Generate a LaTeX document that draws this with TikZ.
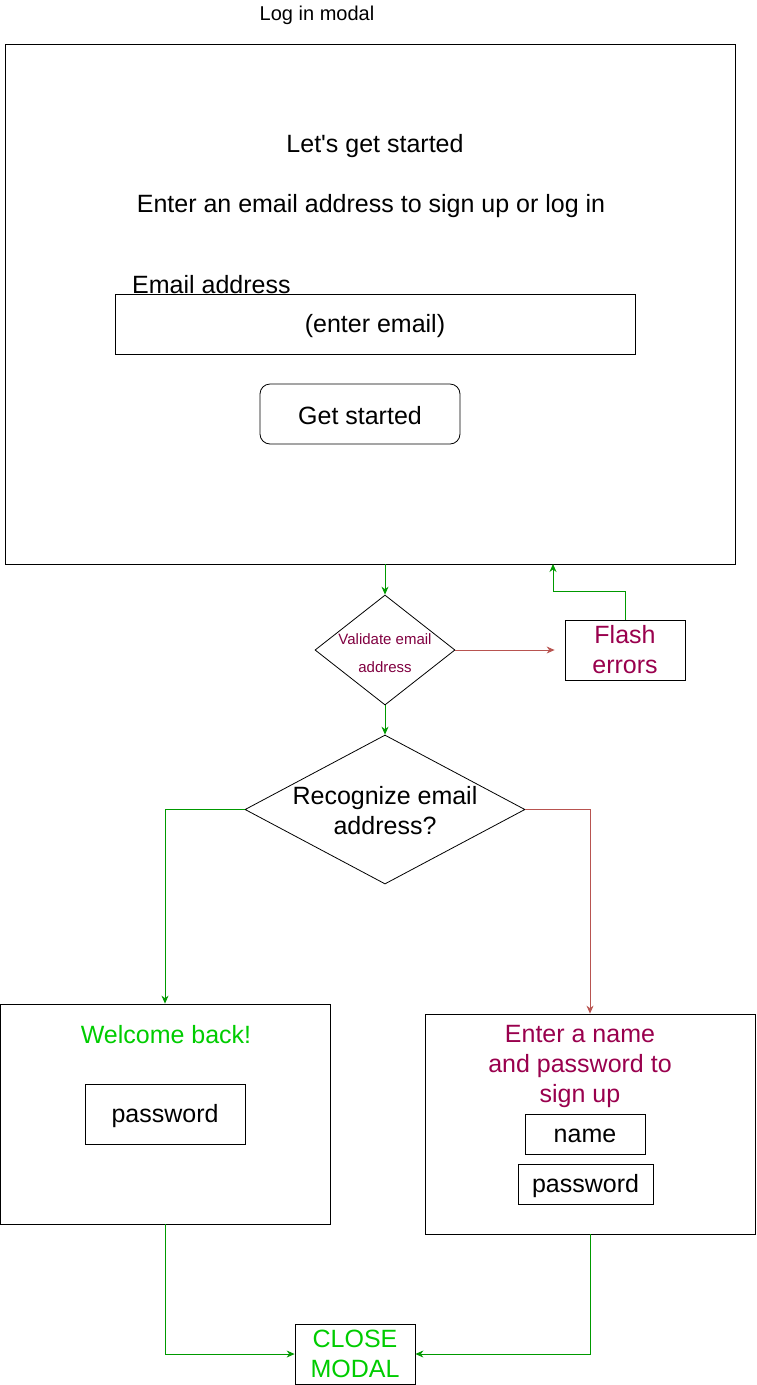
\documentclass[tikz,border=0pt]{standalone}
\usepackage{fontspec}
\setmainfont{Liberation Sans}
\usetikzlibrary{shapes.geometric,arrows.meta}
\definecolor{okgreen}{HTML}{009900}
\definecolor{errred}{HTML}{B85450}
\definecolor{plum}{HTML}{99004D}
\definecolor{darkplum}{HTML}{800040}
\definecolor{brightgreen}{HTML}{00CC00}
\newcommand{\lowertext}[1]{\raisebox{-2pt}[\height][\depth]{#1}}

\begin{document}
\begin{tikzpicture}[x=1pt,y=-1pt]
	\tikzstyle{box}=[draw=black,line width=0.8pt,inner sep=0pt]
	\tikzstyle{decision}=[diamond,draw=black,line width=0.8pt,inner sep=0pt]
	\tikzstyle{big}=[font=\fontsize{25}{30}\selectfont,align=center]
	\tikzstyle{yes}=[draw=okgreen,line width=0.8pt,-{Stealth[length=8pt,width=7pt]}]
	\tikzstyle{no}=[draw=errred,line width=0.8pt,-{Stealth[length=8pt,width=7pt]}]
	\useasboundingbox (0,0) rectangle (756,1385);
	% log in modal
	\node[font=\fontsize{20}{24}\selectfont](title) at (317,15) {Log in modal};
	\node[box,minimum width=730,minimum height=520](modal) at (370,304) {};
	\node[big](started) at (375,146) {Let\textquotesingle s get started};
	\node[big](prompt) at (371,206) {Enter an email address to sign up or log in};
	\node[big,anchor=west,inner sep=0pt](emaillbl) at (132,285) {Email address};
	\node[box,big,minimum width=520,minimum height=60](emailbox) at (375,324) {\lowertext{(enter email)}};
	\node[box,big,rounded corners=10pt,minimum width=200,minimum height=60](getstarted) at (360,414) {\lowertext{Get started}};
	% checks
	\node[decision,minimum width=140,minimum height=110](validate) at (385,650) {};
	\node[font=\fontsize{15}{28}\selectfont,text=darkplum,align=center](validatetxt) at (385,653) {Validate email\\address};
	\node[box,big,text=plum,minimum width=120,minimum height=60](flash) at (625,650) {Flash\\errors};
	\coordinate(retry) at (553,564);
	\node[decision,minimum width=280,minimum height=149](recog) at (385,809.5) {};
	\node[big](recogtxt) at (385,811) {Recognize email\\address?};
	% log in
	\node[box,minimum width=330,minimum height=220](welcome) at (165,1114) {};
	\node[big,text=brightgreen](welcometxt) at (166,1035) {Welcome back!};
	\node[box,big,minimum width=160,minimum height=60](oldpass) at (165,1114) {\lowertext{password}};
	% sign up
	\node[box,minimum width=330,minimum height=220](signup) at (590,1124) {};
	\node[big,text=plum](signuptxt) at (580,1066) {Enter a name\\and password to\\sign up};
	\node[box,big,minimum width=120,minimum height=40](name) at (585,1134) {\lowertext{name}};
	\node[box,big,minimum width=135,minimum height=40](newpass) at (585.5,1184) {\lowertext{password}};
	\node[box,big,text=brightgreen,minimum width=120,minimum height=60](close) at (355,1354) {CLOSE\\MODAL};
	% connectors
	\draw[yes] (validate.north |- modal.south) -- (validate.north);
	\draw[no,shorten >=10pt] (validate.east) -- (flash.west);
	\draw[yes] (flash.north) -- ++(0,-28) -| (retry);
	\draw[yes] (validate.south) -- (recog.north);
	\draw[yes] (recog.west) -| (welcome.north);
	\draw[no] (recog.east) -| (signup.north);
	\draw[yes] (welcome.south) |- (close.west);
	\draw[yes] (signup.south) |- (close.east);
\end{tikzpicture}
\end{document}
